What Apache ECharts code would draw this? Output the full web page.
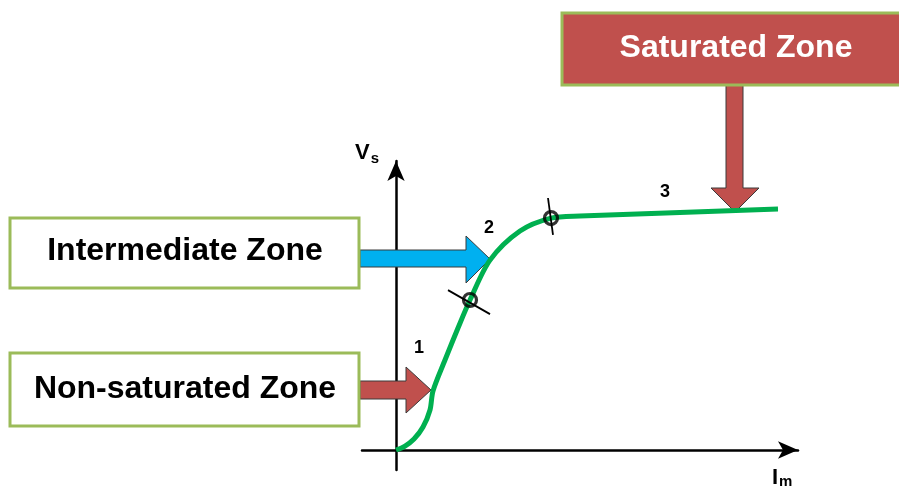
<!DOCTYPE html>
<html>
<head>
<meta charset="utf-8">
<script src="https://cdn.jsdelivr.net/npm/echarts@6/dist/echarts.min.js"></script>
<style>html,body{margin:0;padding:0;background:#fff}#main{width:899px;height:489px}</style>
</head>
<body>
<div id="main"></div>
<script>
// Vs against Im, axis units (0..100 both ways)
var curveX = [0, 2.25, 4.5, 6.75, 8.5, 9.25, 12.25, 15.5, 18.5, 23.5, 31, 38.75, 46, 95.5];
var curveY = [0, 1.33, 3.67, 7.67, 13.33, 19.67, 30, 40.67, 50, 63.3, 73, 77.3, 78, 80.3];
// zone boundaries on the curve
var breakX = [18.5, 38.75];
var breakY = [50, 77.3];
// little cross marks through the boundaries
var tick1 = [[13, 53.3], [23.5, 45.3]];
var tick2 = [[38, 84], [39.25, 71.67]];
var zoneNames = ['Non-saturated Zone', 'Intermediate Zone', 'Saturated Zone'];
var zoneNums = ['1', '2', '3'];

var font = '"Liberation Sans", Arial, sans-serif';

var curve = [];
for (var i = 0; i < curveX.length; i++) {
    curve.push([curveX[i], curveY[i]]);
}
var breaks = [];
for (var i = 0; i < breakX.length; i++) {
    breaks.push([breakX[i], breakY[i]]);
}

var myChart = echarts.init(document.getElementById('main'));

var axisCommon = {
    type: 'value',
    axisTick: {show: false},
    axisLabel: {show: false},
    splitLine: {show: false},
    axisLine: {
        show: true,
        onZero: true,
        symbol: ['none', 'arrow'],
        symbolSize: [13, 20],
        lineStyle: {color: '#000', width: 2.5}
    }
};

var option = {
    animation: false,
    grid: {left: 362, right: 101, top: 161, bottom: 19},
    xAxis: echarts.util.merge({min: -8.5, max: 100.5}, axisCommon),
    yAxis: echarts.util.merge({min: -20 / 3, max: 96 + 1 / 3}, axisCommon),
    graphic: [
        // arrows
        {type: 'polygon', z: 1, shape: {points: [[360, 381], [406, 381], [406, 367], [431, 390], [406, 413], [406, 399], [360, 399]]},
            style: {fill: '#c0504d', stroke: '#3a3a3a', lineWidth: 1}},
        {type: 'polygon', z: 1, shape: {points: [[360, 250], [466, 250], [466, 236], [490, 259], [466, 283], [466, 267], [360, 267]]},
            style: {fill: '#00b0f0', stroke: '#3a3a3a', lineWidth: 1}},
        {type: 'polygon', z: 1, shape: {points: [[726, 85], [743, 85], [743, 188], [759, 188], [735, 212], [711, 188], [726, 188]]},
            style: {fill: '#c0504d', stroke: '#3a3a3a', lineWidth: 1}},
        // boxes
        {type: 'rect', z: 3, shape: {x: 10, y: 353, width: 349, height: 73},
            style: {fill: '#fff', stroke: '#9bbb59', lineWidth: 3}},
        {type: 'rect', z: 3, shape: {x: 10, y: 218, width: 349, height: 70},
            style: {fill: '#fff', stroke: '#9bbb59', lineWidth: 3}},
        {type: 'rect', z: 3, shape: {x: 562, y: 13, width: 345, height: 72},
            style: {fill: '#c0504d', stroke: '#9bbb59', lineWidth: 3}},
        {type: 'text', z: 4, x: 185, y: 389, style: {text: zoneNames[0], font: 'bold 32px ' + font, fill: '#000', align: 'center', verticalAlign: 'middle'}},
        {type: 'text', z: 4, x: 185, y: 251, style: {text: zoneNames[1], font: 'bold 32px ' + font, fill: '#000', align: 'center', verticalAlign: 'middle'}},
        {type: 'text', z: 4, x: 736, y: 48, style: {text: zoneNames[2], font: 'bold 32px ' + font, fill: '#fff', align: 'center', verticalAlign: 'middle'}},
        // zone numbers
        {type: 'text', z: 4, x: 419, y: 348, style: {text: zoneNums[0], font: 'bold 18px ' + font, fill: '#000', align: 'center', verticalAlign: 'middle'}},
        {type: 'text', z: 4, x: 489, y: 228, style: {text: zoneNums[1], font: 'bold 18px ' + font, fill: '#000', align: 'center', verticalAlign: 'middle'}},
        {type: 'text', z: 4, x: 665, y: 192, style: {text: zoneNums[2], font: 'bold 18px ' + font, fill: '#000', align: 'center', verticalAlign: 'middle'}},
        // axis names
        {type: 'text', z: 4, x: 355, y: 142, style: {
            text: '{a|V}{b|s}',
            rich: {
                a: {font: 'bold 22px ' + font, fill: '#000', verticalAlign: 'bottom'},
                b: {font: 'bold 15px ' + font, fill: '#000', verticalAlign: 'bottom', padding: [0, 0, -2, 1]}
            }
        }},
        {type: 'text', z: 4, x: 772, y: 467, style: {
            text: '{a|I}{b|m}',
            rich: {
                a: {font: 'bold 22px ' + font, fill: '#000'},
                b: {font: 'bold 15px ' + font, fill: '#000', padding: [7, 0, 0, 1]}
            }
        }}
    ],
    series: [
        {
            type: 'line',
            data: curve,
            smooth: 0.3,
            showSymbol: false,
            z: 2,
            lineStyle: {color: '#00b050', width: 5}
        },
        {
            type: 'line', data: tick1, showSymbol: false, z: 5,
            lineStyle: {color: '#000', width: 1.8}
        },
        {
            type: 'line', data: tick2, showSymbol: false, z: 5,
            lineStyle: {color: '#000', width: 1.8}
        },
        {
            type: 'scatter',
            data: breaks,
            symbol: 'circle',
            symbolSize: 13,
            z: 6,
            itemStyle: {color: 'rgba(0,0,0,0)', borderColor: '#000', borderWidth: 3.2}
        }
    ]
};
myChart.setOption(option);
</script>
</body>
</html>
